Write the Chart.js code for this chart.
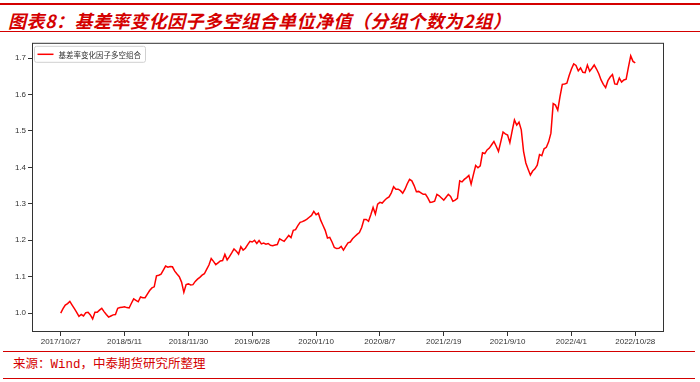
<!DOCTYPE html>
<html>
<head>
<meta charset="utf-8">
<script src="https://cdn.jsdelivr.net/npm/chart.js@4.4.0/dist/chart.umd.min.js"></script>
<style>
  body { margin: 0; background: #fff; width: 700px; height: 382px; position: relative; overflow: hidden; }
  .rule { position: absolute; left: 0; width: 700px; background: #d40000; }
  #title { position: absolute; left: 8px; top: 9px; font: italic bold 18px "Noto Sans CJK SC"; letter-spacing: 0.5px; color: #d40000; line-height: 22px; white-space: nowrap; }
  #source { position: absolute; left: 13px; top: 356px; font: 12.5px "Liberation Mono", "Noto Sans CJK SC"; color: #d40000; line-height: 18px; white-space: nowrap; }
  #wrap { position: absolute; left: 0; top: 36px; width: 700px; height: 316px; }
</style>
</head>
<body>
<div class="rule" style="top:3px;height:2px"></div>
<div id="title">图表8：基差率变化因子多空组合单位净值（分组个数为2组）</div>
<div class="rule" style="top:31px;height:1px"></div>
<div id="wrap"><canvas id="netChart" width="700" height="316"></canvas></div>
<div class="rule" style="top:351px;height:1px;left:3px;width:692px"></div>
<div id="source">来源：Wind，中泰期货研究所整理</div>
<div class="rule" style="top:378px;height:1px;left:3px;width:692px"></div>

<script>
const seriesName = "基差率变化因子多空组合";
const xLabels = ["2017/10/27", "2018/5/11", "2018/11/30", "2019/6/28", "2020/1/10",
                 "2020/8/7", "2021/2/19", "2021/9/10", "2022/4/1", "2022/10/28"];
const xTickPos = [0, 28, 56, 84, 112, 140, 168, 196, 224, 252];
const yTicks = [1.0, 1.1, 1.2, 1.3, 1.4, 1.5, 1.6, 1.7];

// weekly net value
const netValue = [
  1.000, 1.012, 1.022, 1.026, 1.032, 1.022, 1.012, 1.002, 0.991, 0.996,
  0.992, 1.001, 1.002, 0.995, 0.984, 1.002, 1.002, 1.008, 1.013,
  1.004, 0.996, 0.989, 0.992, 0.995, 0.996, 1.013, 1.015, 1.016, 1.017,
  1.015, 1.014, 1.027, 1.039, 1.035, 1.031, 1.044, 1.042, 1.042, 1.052,
  1.062, 1.069, 1.072, 1.102, 1.104, 1.107, 1.118, 1.129, 1.126,
  1.128, 1.127, 1.115, 1.107, 1.100, 1.085, 1.057, 1.078, 1.080, 1.077,
  1.078, 1.087, 1.093, 1.098, 1.104, 1.108, 1.120, 1.132, 1.150, 1.142,
  1.133, 1.138, 1.143, 1.144, 1.161, 1.146, 1.155, 1.165, 1.176,
  1.170, 1.162, 1.182, 1.173, 1.178, 1.188, 1.197, 1.195, 1.200, 1.191,
  1.199, 1.190, 1.192, 1.189, 1.191, 1.186, 1.185, 1.187, 1.188, 1.204,
  1.200, 1.197, 1.205, 1.213, 1.207, 1.227, 1.229, 1.240, 1.249,
  1.251, 1.254, 1.258, 1.263, 1.268, 1.279, 1.270, 1.274, 1.255, 1.241,
  1.227, 1.206, 1.208, 1.195, 1.180, 1.177, 1.178, 1.183, 1.173, 1.183,
  1.193, 1.195, 1.204, 1.210, 1.216, 1.221, 1.235, 1.257, 1.257,
  1.252, 1.270, 1.290, 1.272, 1.299, 1.304, 1.302, 1.309, 1.315, 1.319,
  1.330, 1.347, 1.340, 1.340, 1.336, 1.329, 1.340, 1.355, 1.367, 1.363,
  1.350, 1.333, 1.334, 1.330, 1.326, 1.326, 1.316, 1.304, 1.305,
  1.307, 1.326, 1.322, 1.316, 1.310, 1.318, 1.326, 1.320, 1.307, 1.310,
  1.315, 1.363, 1.360, 1.367, 1.372, 1.378, 1.354, 1.380, 1.405,
  1.399, 1.404, 1.440, 1.438, 1.448, 1.453, 1.462, 1.471, 1.458, 1.444,
  1.470, 1.497, 1.492, 1.489, 1.468, 1.500, 1.530, 1.516, 1.524, 1.503,
  1.444, 1.412, 1.395, 1.379, 1.390, 1.396, 1.406, 1.435, 1.432,
  1.451, 1.455, 1.470, 1.494, 1.575, 1.571, 1.557, 1.595, 1.628, 1.629,
  1.631, 1.652, 1.670, 1.684, 1.680, 1.665, 1.673, 1.661, 1.660, 1.681,
  1.664, 1.672, 1.681, 1.670, 1.657, 1.640, 1.628, 1.619, 1.638,
  1.648, 1.655, 1.629, 1.628, 1.645, 1.634, 1.640, 1.642, 1.675, 1.706,
  1.691, 1.687
];

// box round the plot and the legend in its top left corner
const framePlugin = {
  id: "frame",
  afterDraw(chart) {
    const { ctx, chartArea: a } = chart;
    ctx.save();
    ctx.strokeStyle = "#333";
    ctx.lineWidth = 1;
    ctx.strokeRect(a.left + 0.5, a.top + 0.5, a.right - a.left - 1, a.bottom - a.top - 1);

    const ds = chart.data.datasets[0];
    const bx = a.left + 2.5, by = a.top + 3.5, bw = 111, bh = 16;
    ctx.fillStyle = "rgba(255,255,255,0.8)";
    ctx.strokeStyle = "#d0d0d0";
    ctx.beginPath();
    ctx.roundRect(bx, by, bw, bh, 2);
    ctx.fill();
    ctx.stroke();

    ctx.strokeStyle = ds.borderColor;
    ctx.lineWidth = 1.5;
    ctx.beginPath();
    ctx.moveTo(bx + 3, by + 8);
    ctx.lineTo(bx + 19, by + 8);
    ctx.stroke();

    ctx.fillStyle = "#333";
    ctx.font = '7.5px "Noto Sans CJK SC"';
    ctx.textBaseline = "middle";
    ctx.fillText(ds.label, bx + 24, by + 8.5);
    ctx.restore();
  }
};

const tickFont = { family: "Liberation Sans", size: 8 };

new Chart(document.getElementById("netChart"), {
  type: "line",
  data: {
    datasets: [{
      label: seriesName,
      data: netValue.map((v, i) => ({ x: i, y: v })),
      borderColor: "#ff0000",
      borderWidth: 1.5,
      pointRadius: 0,
      tension: 0,
      fill: false
    }]
  },
  options: {
    responsive: false,
    animation: false,
    layout: { padding: { left: 0, right: 36, top: 2, bottom: 0 } },
    plugins: { legend: { display: false }, tooltip: { enabled: false } },
    scales: {
      x: {
        type: "linear",
        min: -12.6,
        max: 264.6,
        afterBuildTicks: s => { s.ticks = xTickPos.map(v => ({ value: v })); },
        afterFit: s => { s.height = 20; },
        ticks: {
          callback: (v, i) => xLabels[i],
          autoSkip: false,
          maxRotation: 0,
          color: "#333",
          font: tickFont,
          padding: 1
        },
        grid: { drawOnChartArea: false, tickLength: 4, tickColor: "#333" },
        border: { display: false }
      },
      y: {
        min: 0.948,
        max: 1.742,
        afterBuildTicks: s => { s.ticks = yTicks.map(v => ({ value: v })); },
        afterFit: s => { s.width = 32; },
        ticks: {
          callback: v => v.toFixed(1),
          color: "#333",
          font: tickFont,
          padding: 2
        },
        grid: { drawOnChartArea: false, tickLength: 4, tickColor: "#333" },
        border: { display: false }
      }
    }
  },
  plugins: [framePlugin]
});
</script>
</body>
</html>
